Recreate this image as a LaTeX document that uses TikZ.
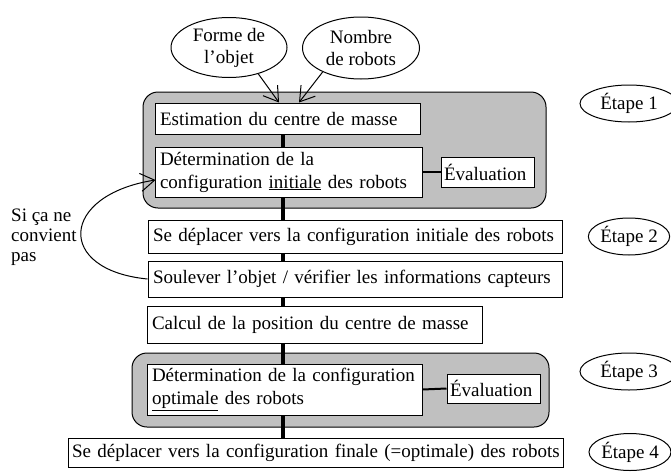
\documentclass[tikz,border=0pt]{standalone}
\usepackage{fontspec}
\setmainfont{Liberation Serif}
\usetikzlibrary{shapes.geometric,arrows.meta}
\definecolor{grp}{RGB}{192,192,192}
\tikzset{
  box/.style={draw, line width=1pt, fill=white, inner xsep=5pt, inner ysep=0pt, align=left, font=\fontsize{19}{23}\selectfont},
  grpbox/.style={draw, line width=1pt, fill=grp, rounded corners=15pt, inner sep=0pt},
  oval/.style={draw, ellipse, line width=1pt, inner sep=0pt, align=center, font=\fontsize{19}{22}\selectfont},
  spine/.style={line width=3.5pt},
  link/.style={line width=2pt},
  arr/.style={line width=1pt, -{Straight Barb[length=14pt,width=18pt]}},
}
\begin{document}
\begin{tikzpicture}[x=1pt,y=-1pt]
\useasboundingbox (0,0) rectangle (671,471);
% group backgrounds
\node[grpbox, minimum width=403pt, minimum height=116pt] (g1) at (344.5,150) {};
\node[grpbox, minimum width=417pt, minimum height=74pt] (g2) at (340.5,390) {};
\coordinate (sp) at (283,0);
% boxes
\node[box, text width=255pt, minimum height=31pt] (est) at (287.5,118.5) {Estimation du centre de masse};
\node[box, text width=257pt, minimum height=50pt] (det1) at (288.5,172) {Détermination de la\\configuration \underline{initiale} des robots};
\node[box, inner xsep=3pt, text width=87pt, minimum height=30pt] (ev1) at (487.5,172) {Évaluation};
\node[box, text width=404pt, minimum height=33pt] (dep) at (355,236.5) {Se déplacer vers la configuration initiale des robots};
\node[box, text width=404pt, minimum height=36pt] (soul) at (355,279) {Soulever l’objet / vérifier les informations capteurs};
\node[box, text width=325pt, minimum height=37pt] (calc) at (314.5,324.5) {Calcul de la position du centre de masse};
\node[box, text width=265pt, minimum height=51pt] (det2) at (284.5,389.5) {Détermination de la configuration\\\underline{optimale} des robots};
\node[box, inner xsep=3pt, text width=87pt, minimum height=29pt] (ev2) at (493.5,388.5) {Évaluation};
\node[box, inner xsep=4pt, text width=487pt, minimum height=29pt] (fin) at (315.5,452.5) {\mbox{Se déplacer vers la configuration finale (=optimale) des robots}};
% spine
\draw[spine] (est.south -| sp) -- (det1.north -| sp);
\draw[spine] (det1.south -| sp) -- (dep.north -| sp);
\draw[spine] (dep.south -| sp) -- (soul.north -| sp);
\draw[spine] (soul.south -| sp) -- (calc.north -| sp);
\draw[spine] (calc.south -| sp) -- (det2.north -| sp);
\draw[spine] (det2.south -| sp) -- (fin.north -| sp);
\draw[link] (det1.east) -- (ev1.west);
\draw[link] (det2.east) -- (ev2.west);
% inputs
\node[oval, minimum width=116pt, minimum height=60pt] (forme) at (229,47.5) {Forme de\\l’objet};
\node[oval, minimum width=117pt, minimum height=62pt] (nombre) at (361,48) {Nombre\\de robots};
\draw[arr] (forme.318) -- ([xshift=-8.5pt]est.north);
\draw[arr] (nombre.212) -- ([xshift=11.5pt]est.north);
% steps
\node[oval, minimum width=98pt, minimum height=37pt] (e1) at (629,103.5) {Étape 1};
\node[oval, minimum width=80pt, minimum height=37pt] (e2) at (629,236.5) {Étape 2};
\node[oval, minimum width=98pt, minimum height=37pt] (e3) at (629,371.5) {Étape 3};
\node[oval, minimum width=82pt, minimum height=37pt] (e4) at (630,452) {Étape 4};
% loop
\coordinate (lp) at ([xshift=1pt,yshift=-8pt]det1.west);
\draw[arr] (soul.west) .. controls (55,270) and (60,195) .. (lp);
\node[anchor=west, align=left, inner sep=0pt, font=\fontsize{19}{20}\selectfont] (si) at (11,237) {Si ça ne\\convient\\pas};
\end{tikzpicture}
\end{document}
